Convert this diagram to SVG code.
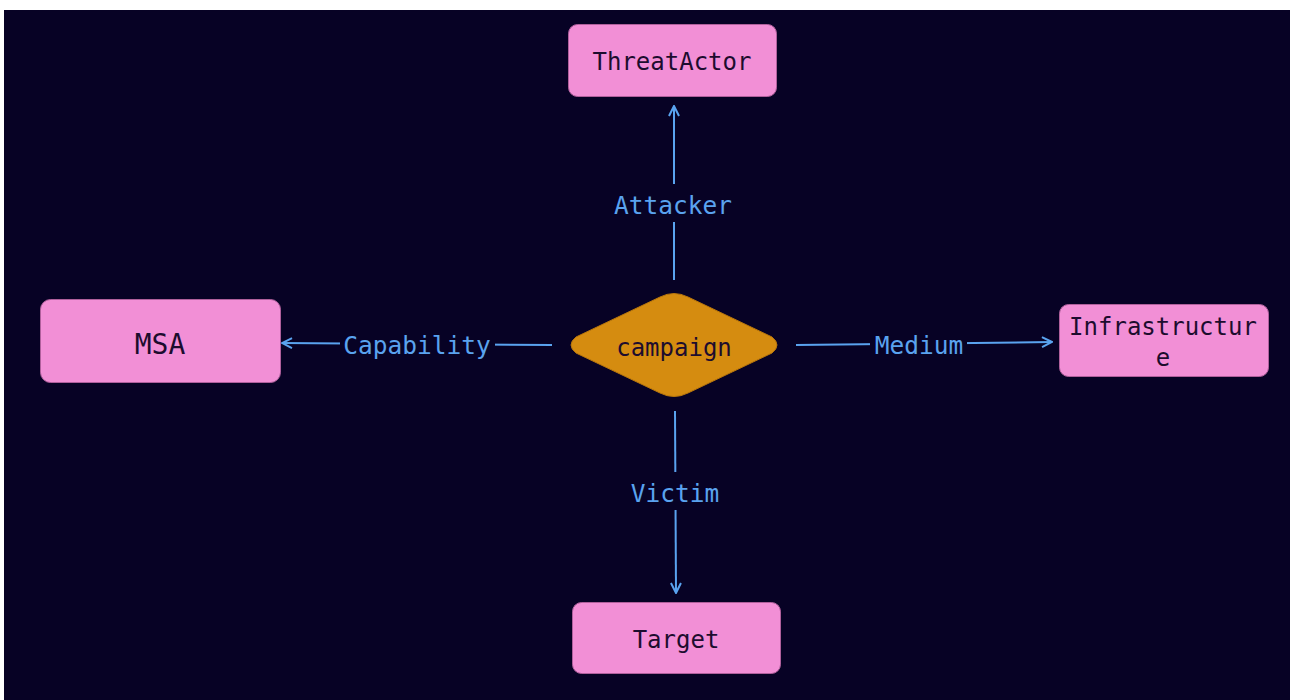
<svg xmlns="http://www.w3.org/2000/svg" width="1290" height="700" viewBox="0 0 1290 700">
<defs>
<style>
.node{fill:#f28fd6;stroke:#b0609c;stroke-width:1}
.ntext{font-family:"DejaVu Sans Mono",monospace;font-size:24px;fill:#1d0c2e;text-anchor:middle;dominant-baseline:central}
.edge{stroke:#5aa3ef;stroke-width:2;fill:none}
.elabel{font-family:"DejaVu Sans Mono",monospace;font-size:24.5px;fill:#5aa3ef;text-anchor:middle;dominant-baseline:central}
.lbg{fill:#070225}
</style>
<marker id="arr" viewBox="0 0 12 12" refX="11" refY="6" markerWidth="12" markerHeight="12" markerUnits="userSpaceOnUse" orient="auto">
<path d="M1,1 L11,6 L1,11" fill="none" stroke="#5aa3ef" stroke-width="2"/>
</marker>
</defs>
<rect x="0" y="0" width="1290" height="700" fill="#ffffff"/>
<rect x="4" y="10" width="1286" height="690" fill="#070225"/>
<g id="connectors">
<path class="edge" d="M674,280 L674,106" marker-end="url(#arr)"/>
<rect class="lbg" x="610" y="184" width="128" height="38"/>
<text class="elabel" x="673" y="205">Attacker</text>
<path class="edge" d="M552,345 L282,343" marker-end="url(#arr)"/>
<rect class="lbg" x="340" y="328" width="155" height="34"/>
<text class="elabel" x="417" y="345">Capability</text>
<path class="edge" d="M796,345 L1052,342" marker-end="url(#arr)"/>
<rect class="lbg" x="870" y="328" width="97" height="34"/>
<text class="elabel" x="919" y="345">Medium</text>
<path class="edge" d="M675,411 L676,593" marker-end="url(#arr)"/>
<rect class="lbg" x="625" y="472" width="100" height="38"/>
<text class="elabel" x="675" y="493">Victim</text>
</g>
<g id="ThreatActor">
<rect class="node" x="568.5" y="24.5" width="208" height="72" rx="9"/>
<text class="ntext" x="672" y="62">ThreatActor</text>
</g>
<g id="campaign">
<path d="M660,297 Q674,290 688,297 L772,337 Q782,345 772,353 L688,393 Q674,400 660,393 L576,353 Q566,345 576,337 Z" fill="#d58c10" stroke="#b8760c" stroke-width="1"/>
<text class="ntext" x="674" y="348">campaign</text>
</g>
<g id="Infrastructure">
<rect class="node" x="1059.5" y="304.5" width="209" height="72" rx="9"/>
<text class="ntext" x="1163" y="327">Infrastructur</text>
<text class="ntext" x="1163" y="358">e</text>
</g>
<g id="MSA">
<rect class="node" x="40.5" y="299.5" width="240" height="83" rx="10"/>
<text class="ntext" x="160" y="344" style="font-size:28px">MSA</text>
</g>
<g id="Target">
<rect class="node" x="572.5" y="602.5" width="208" height="71" rx="9"/>
<text class="ntext" x="676" y="640">Target</text>
</g>
</svg>
